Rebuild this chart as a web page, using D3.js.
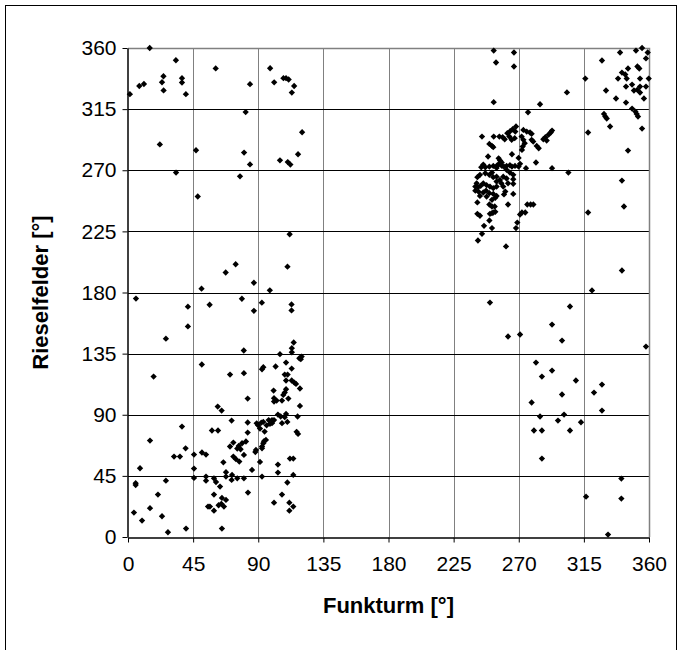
<!DOCTYPE html>
<html>
<head>
<meta charset="utf-8">
<script src="https://cdn.jsdelivr.net/npm/d3@7/dist/d3.min.js"></script>
<style>
  html, body { margin: 0; padding: 0; background: #fff; }
  svg { display: block; }
  text { font-family: "Liberation Sans", Arial, sans-serif; }
</style>
</head>
<body>
<svg id="chart" width="682" height="650"></svg>
<script>
// ---- Data (degrees): [Funkturm, Rieselfelder] ----
const tickValues = [0, 45, 90, 135, 180, 225, 270, 315, 360];
const xTitle = "Funkturm [°]";
const yTitle = "Rieselfelder [°]";

const groupNW = [[15,360],[1.3,326],[7.8,332],[11,333.5],[24.5,339.2],[23.5,334.8],[24.6,328.8],[33.1,351],[37.3,337.8],[37.3,334.6],[40,326],[22,289],[33.2,268.3],[47,284.7],[48.2,250.7],[60.6,345],[84.3,333.4],[81.3,312.8],[80.2,283],[84.3,274.3],[77.4,265.5],[98.2,345.1],[101,334.7],[107.4,337.8],[109.2,337.8],[111,336.8],[114.8,332],[113.2,327.2],[120.3,298],[117.5,281.8],[105,277.3],[110.4,276],[112.2,274.2]];

const groupW = [[5.5,175.5],[50.8,182.8],[56.4,171],[41.4,169.6],[41.4,155],[26.2,146],[67.5,194.7],[74.4,200.8],[78.7,175.4],[87,187.2],[87,166.5],[98,181.6],[92.5,172.5],[80,137.3],[111.7,222.9],[110.2,199],[113,171.2],[113,166.8],[51,127],[114.5,143.2],[113.2,139],[113.2,136],[105,134.6],[118.4,131.6],[120,132.8],[119.4,130.9]];

const groupSW = [[17.7,118.1],[70.5,119.6],[80.1,120.6],[82.7,101.9],[62,96],[64.7,93.1],[71.6,85.7],[82.7,84.3],[82.7,76.9],[37.3,81.3],[58,78.4],[62.2,78.4],[15.2,71],[70.5,66.6],[72.8,69.5],[76.5,67],[78.8,69],[81.5,70.3],[77.8,64.6],[75.5,65.1],[39.8,65.3],[31.8,59.2],[35.9,59.2],[45.6,60.7],[51.1,62.2],[53.9,60.7],[72.8,59.2],[74.6,57.3],[76.9,55.5],[80.1,60.4],[65.9,55],[8.3,50.6],[45.6,50.4],[67.7,47.7],[71.9,45.7],[67.7,44.5],[53.9,44.5],[53.9,41.5],[45.6,43.5],[59.4,43.2],[60.8,40.5],[63.6,37.1],[75.5,43.2],[80.1,43.2],[71.6,42],[26.2,41.5],[5.3,39.6],[5.3,38.3],[82.9,32.7],[20.7,31.2],[59.4,31.2],[64.9,28.8],[67.7,27.3],[55.3,22.4],[56.6,22.4],[62.6,23.4],[64.5,24.4],[66.3,22.4],[59.4,19.4],[15.2,21.2],[4.1,18],[23.5,15.3],[9.7,12.1],[40.1,6.2],[27.6,3.5],[64.9,6.2],
[93.5,125],[92.6,123.5],[102,125.5],[109.2,128.4],[113.1,124],[108.3,119.6],[110.3,119.6],[109.2,115.2],[113.1,115.2],[114.9,113.7],[116.1,112.7],[118.8,109.3],[100.6,107.8],[109.2,108.8],[108.3,106.3],[107.3,104.6],[100.9,102.2],[100.9,99.7],[102.7,100.4],[106.4,100.4],[110.8,101.9],[118.8,96.5],[103.6,90.1],[105.5,88.7],[109.2,90.6],[108.3,88.2],[110.1,84.7],[117.2,88.7],[88.9,83.7],[89.9,82.2],[92.1,84.2],[93.5,84.7],[95.8,82.2],[97.2,86.1],[98.1,83.3],[99.5,86.1],[100.9,86.1],[99.5,83.8],[106.4,83.8],[116.5,77.4],[117.5,75.9],[91.2,79.8],[94.4,77.6],[95.3,71.5],[93.5,69],[92.6,66.6],[94,70.5],[88.4,64.1],[88,62.6],[92.6,65.3],[91.2,55.3],[85.7,49.4],[103.6,53.3],[103.6,47.4],[111.9,57.7],[114.2,57.7],[92.6,44.5],[114.2,45.7],[110.1,40.1],[106.4,31.2],[100.9,25.3],[111.5,25.3],[114.2,22.4],[111.5,19.4]];

const groupNE = [[252.7,358.1],[266.7,356.7],[254.3,349.3],[266.7,346.4],[252.7,320.1],[284.7,318.6],[276.4,312.7],[303.3,327.3],[244.6,294.8],
[252.7,294.8],[256.6,294.8],[258.9,294.3],[260.3,292.8],[263.5,294.8],[262.1,297.3],[264,298.7],[265.8,300.2],[268.1,302.2],[267.6,298.5],[267.2,293.6],[265.1,292.4],
[273.2,299.7],[275.5,298.5],[277.8,297.8],[278.9,296.8],[272,294.8],[273.2,292.4],[278.9,292.4],[280,291.1],[274.1,289.9],[272.7,287.4],[272.2,285],[282.4,287.9],[283.8,286.2],
[287,292.8],[288.4,294.3],[290.7,296.3],[292.1,297.8],[293,299.2],[289.3,291.9],[249.7,289.4],[251.5,287.9],[252.4,287],[248.8,280.1],[256.1,278.8],[257.1,277.1],[258.2,275.7],[265.3,281.8],[269.9,279.1],[269.9,272.7],[270.9,274.7],[281.9,275.7],[275,271.5],[293,271.5],
[245.5,274.2],[246.9,272.2],[244.1,272.2],[249.7,272.7],[252.4,273.2],[254.7,271.7],[255.2,273.7],[256.6,274.7],[258.4,273.2],[259.8,272.7],[261.6,273.2],[263.9,273.7],[265.3,272.7],[267.4,273.2],[261.6,270.3],[263.9,268.3],[266.2,266.6],
[241.4,264.9],[243.2,266.6],[246.9,267.8],[249.7,266.6],[251.5,268.3],[252.4,264.9],[254.7,265.3],[257,262.9],[259.3,265.3],[261.6,263.9],[266.2,263.4],[266.2,260],[262.6,260.4],[258,260.4],[254.7,261.7],
[240.9,260.4],[240,258],[241.8,257.5],[243.7,258.5],[245.5,260.4],[247.8,259],[250.1,258],[252.4,256.8],[254.7,258],[259.3,258],[260.7,254.3],[266.2,252.6],
[240,255],[242.3,254.1],[245.5,253.6],[247.4,255],[249.7,253.1],[252.4,252.6],[254.7,251.1],[243.2,251.1],[247.8,250.6],[253.8,249.7],[251.5,248.2],[259.8,252.2],
[262.6,244.8],[241.4,246.3],[249.7,244.8],[251.5,243.3],[253.4,243.3],[275.9,244.8],[278.2,244.8],[280.1,244.8],[241.4,237.9],[243.2,236.5],[250.1,237.9],[251.5,238.4],[252.4,238.9],[253.8,239.4],[249.7,233],[246,229.1],[251.5,227.4],[270.9,237.4],[272.2,238.9],[274.5,238.9],[269,231.5],[268.1,227.4],[244.6,223.2],[241.8,218.3],[261.2,213.9],[250.1,172.6],[262.6,147.6],[270.9,149.1]];

const groupE = [[340,356.7],[351,358.1],[355.2,360],[359.1,356.7],[357.9,352.3],[327.5,350.8],[316,337.5],[330.3,328.7],[352,346.4],[353.3,344.9],[345.5,344.9],[341.3,341.9],[343.6,340.5],[344.6,337.5],[338.6,337.5],[344.1,331.6],[348.3,333.1],[349.6,328.7],[353.8,337.5],[353.8,331.6],[353.8,327.2],[357.9,331.6],[359.8,337.5],[356.5,322.8],[351.9,329.2],[337.2,322.8],[344.1,319.8],[348.3,315.4],[350.6,313.2],[351.5,311.5],[352.4,309.5],[328.9,311.5],[329.8,309.5],[330.8,308.1],[333.1,302.2],[355.2,300.7],[317.9,297.8],[345.5,284.5],[304.3,268.3],[341.3,262.4],[317.9,238.9],[342.7,243.3],[341.3,196.2],[320.6,181.5],[305.4,169.7],[293,156.4],[299.9,144.6],[357.9,140.2],[327.5,112.2],[322,106.3],[327.5,93.1],[313,84.5],[340.9,43],[316.5,29.7],[340.9,28.3],[331.7,1.8]];

const groupSE = [[281.9,128.4],[286,118.1],[293,122.5],[309.5,115.2],[299.9,104.9],[278.9,99],[284.7,88.7],[297.1,85.7],[301.3,90.1],[280.5,78.4],[286,78.4],[305.4,78.4],[286,57.7]];

(function () {
const points = [].concat(groupNW, groupW, groupSW, groupNE, groupE, groupSE);

// ---- Chart ----
const svg = d3.select("#chart");
const pL = 128, pR = 649, pT = 48, pB = 537;
const x = d3.scaleLinear().domain([0, 360]).range([pL, pR]);
const y = d3.scaleLinear().domain([0, 360]).range([pB, pT]);

// outer frame
svg.append("rect")
  .attr("x", 5.5).attr("y", 5.5).attr("width", 671).attr("height", 700)
  .attr("fill", "none").attr("stroke", "#000").attr("stroke-width", 1);

// vertical gridlines (gray)
svg.append("g").selectAll("line").data(tickValues.slice(1, -1)).join("line")
  .attr("x1", d => Math.round(x(d)) + 0.5).attr("x2", d => Math.round(x(d)) + 0.5)
  .attr("y1", pT).attr("y2", pB)
  .attr("stroke", "#808080").attr("stroke-width", 1);

// horizontal gridlines (black)
svg.append("g").selectAll("line").data(tickValues.slice(1, -1)).join("line")
  .attr("y1", d => Math.round(y(d)) + 0.5).attr("y2", d => Math.round(y(d)) + 0.5)
  .attr("x1", pL).attr("x2", pR)
  .attr("stroke", "#000").attr("stroke-width", 1);

// plot border top/right (gray)
svg.append("path")
  .attr("d", `M${pL},${pT + 0.5}H${pR + 0.5}V${pB}`)
  .attr("fill", "none").attr("stroke", "#808080").attr("stroke-width", 1.5);

// axes
const xAxis = d3.axisBottom(x).tickValues(tickValues).tickSize(5).tickPadding(14).tickSizeOuter(0);
const yAxis = d3.axisLeft(y).tickValues(tickValues).tickSize(5).tickPadding(6).tickSizeOuter(0);

const gx = svg.append("g").attr("transform", `translate(0,${pB + 0.5})`).call(xAxis);
const gy = svg.append("g").attr("transform", `translate(${pL - 0.5},0)`).call(yAxis);
[gx, gy].forEach(g => {
  g.selectAll("path.domain").attr("stroke", "#000").attr("stroke-width", 1.5);
  g.selectAll("line").attr("stroke", "#000");
  g.selectAll("text").attr("fill", "#000")
    .style("font-family", "'Liberation Sans', Arial, sans-serif").style("font-size", "21px");
});

// markers
svg.append("g").selectAll("path").data(points).join("path")
  .attr("d", d3.symbol().type(d3.symbolSquare).size(20))
  .attr("transform", d => `translate(${x(d[0])},${y(d[1])}) rotate(45)`)
  .attr("fill", "#000");

// axis titles
svg.append("text")
  .attr("x", (pL + pR) / 2).attr("y", 613)
  .attr("text-anchor", "middle")
  .style("font-weight", "bold").style("font-size", "22px")
  .text(xTitle);

svg.append("text")
  .attr("transform", `translate(48,${(pT + pB) / 2}) rotate(-90)`)
  .attr("text-anchor", "middle")
  .style("font-weight", "bold").style("font-size", "22px")
  .text(yTitle);
})();
</script>
</body>
</html>
